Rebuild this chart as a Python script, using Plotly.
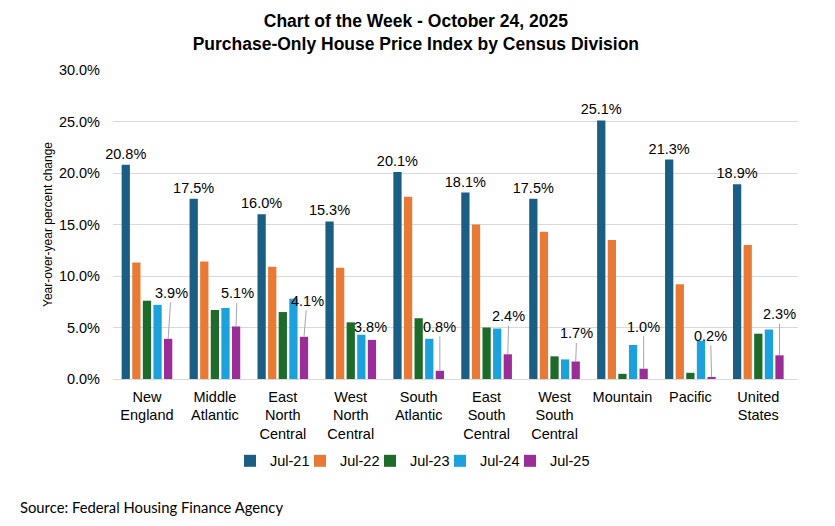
import plotly.graph_objects as go

categories = ["New<br>England", "Middle<br>Atlantic", "East<br>North<br>Central",
              "West<br>North<br>Central", "South<br>Atlantic", "East<br>South<br>Central",
              "West<br>South<br>Central", "Mountain", "Pacific", "United<br>States"]
series_names = ["Jul-21", "Jul-22", "Jul-23", "Jul-24", "Jul-25"]
jul21 = [20.8, 17.5, 16.0, 15.3, 20.1, 18.1, 17.5, 25.1, 21.3, 18.9]
jul22 = [11.3, 11.4, 10.9, 10.8, 17.7, 15.0, 14.3, 13.5, 9.2, 13.0]
jul23 = [7.6, 6.7, 6.5, 5.5, 5.9, 5.0, 2.2, 0.5, 0.6, 4.4]
jul24 = [7.2, 6.9, 7.8, 4.3, 3.9, 4.9, 1.9, 3.3, 3.7, 4.8]
jul25 = [3.9, 5.1, 4.1, 3.8, 0.8, 2.4, 1.7, 1.0, 0.2, 2.3]
ytick_vals = [0, 5, 10, 15, 20, 25, 30]

colors = ["#1B5E83", "#E97A35", "#1C6B2A", "#1BA1DB", "#9B2D98"]
# label offsets (pixels) for the Jul-25 leader-line labels
lbl_ax = [3, 1, 3, -1, 0, 1, 1, 0, -1, 0]
lbl_ay = [-46, -33, -36, -13, -44, -38, -28, -42, -41, -41]
lbl_arrow = [True, True, True, False, True, True, True, True, True, True]

FONT = "Liberation Sans, Arial, sans-serif"
bargap = 0.22
ML, MR, MT, MB = 113, 37, 70, 147
W, H = 835, 526
plot_w = W - ML - MR
legend_left_px = 230
legend_step_px = 70

fig = go.Figure()
all_series = [jul21, jul22, jul23, jul24, jul25]
legend_ids = ["legend", "legend2", "legend3", "legend4", "legend5"]
for i, (name, vals) in enumerate(zip(series_names, all_series)):
    kw = {}
    if i == 0:
        kw = dict(text=[f"{v:.1f}%" for v in vals], textposition="outside",
                  textfont=dict(family=FONT, size=14.5, color="#000000"),
                  constraintext="none", cliponaxis=False)
    fig.add_trace(go.Bar(x=categories, y=vals, name=name, legend=legend_ids[i],
                         marker=dict(color=colors[i], line=dict(width=0)), **kw))

slot = (1 - bargap) / 5
for k, v in enumerate(jul25):
    if lbl_arrow[k]:
        fig.add_annotation(x=k + 2 * slot, y=v, xref="x", yref="y",
                           text=f"{v:.1f}%", showarrow=True, arrowhead=0,
                           arrowwidth=1, arrowcolor="#A6A6A6", standoff=0,
                           ax=lbl_ax[k], ay=lbl_ay[k],
                           font=dict(family=FONT, size=14.5, color="#000000"))
    else:
        fig.add_annotation(x=k + 2 * slot, y=v, xref="x", yref="y",
                           text=f"{v:.1f}%", showarrow=False,
                           xshift=lbl_ax[k], yshift=-lbl_ay[k],
                           font=dict(family=FONT, size=14.5, color="#000000"))

fig.add_annotation(text="Source: Federal Housing Finance Agency", xref="paper", yref="paper",
                   x=-0.138, y=-0.415, xanchor="left", yanchor="middle", showarrow=False,
                   font=dict(family="Lato, sans-serif", size=14.8, color="#000000"))

legend_layout = {}
for i, lid in enumerate(legend_ids):
    legend_layout[lid] = dict(orientation="h",
                              x=(legend_left_px + legend_step_px * i - ML) / plot_w,
                              xanchor="left", y=-0.265, yanchor="middle",
                              font=dict(family=FONT, size=14.5, color="#000000"),
                              bgcolor="rgba(0,0,0,0)")

fig.update_layout(
    width=W, height=H,
    margin=dict(l=ML, r=MR, t=MT, b=MB),
    paper_bgcolor="white", plot_bgcolor="white",
    barmode="group", bargap=bargap, bargroupgap=0.22,
    title=dict(text="<b>Chart of the Week - October 24, 2025<br>Purchase-Only House Price Index by Census Division</b>",
               x=0.498, xref="container", xanchor="center", y=0.948, yanchor="top",
               font=dict(family=FONT, size=17.5, color="#000000")),
    font=dict(family=FONT, size=14.5, color="#000000"),
    showlegend=True,
    **legend_layout,
)
fig.update_yaxes(range=[0, 30], tickvals=ytick_vals,
                 ticktext=[f"{v:.1f}%" for v in ytick_vals],
                 showgrid=True, gridcolor="#D9D9D9", gridwidth=1,
                 zeroline=True, zerolinecolor="#D9D9D9", zerolinewidth=1,
                 showline=False, ticks="", ticklabelstandoff=12,
                 tickfont=dict(family=FONT, size=14.5, color="#000000"),
                 title=dict(text="Year-over-year percent change", standoff=3,
                            font=dict(family=FONT, size=12, color="#000000")))
fig.update_xaxes(type="category", showgrid=False, showline=False, ticks="",
                 ticklabelstandoff=7,
                 tickfont=dict(family=FONT, size=14.5, color="#000000"))

fig.write_html("out.html", config={"displayModeBar": False},
               post_script="document.body.style.margin='0';")
